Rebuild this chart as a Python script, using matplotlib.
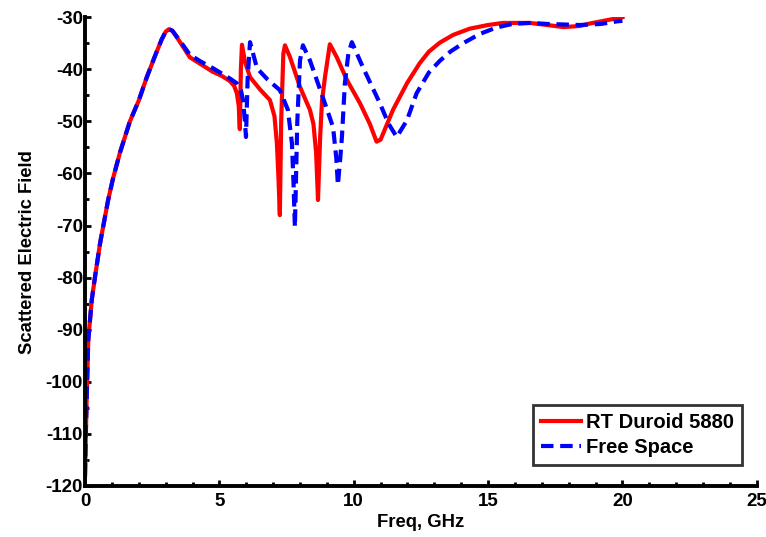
import matplotlib
matplotlib.use("Agg")
import matplotlib.pyplot as plt
from matplotlib.ticker import MultipleLocator

plt.rcParams['font.family'] = ['Liberation Sans', 'DejaVu Sans']
plt.rcParams['font.weight'] = 'bold'
plt.rcParams['axes.unicode_minus'] = False

rt_freq = [0, 0.03, 0.06, 0.12, 0.25, 0.37, 0.56, 0.86, 1.04, 1.3, 1.67, 2.0, 2.3, 2.6, 2.85, 3.0, 3.12, 3.25,
           3.5, 3.9, 4.3, 4.76, 5.1, 5.4, 5.55, 5.65, 5.72, 5.76, 5.8, 5.84, 5.95, 6.14, 6.5, 6.88,
           7.05, 7.14, 7.2, 7.25, 7.3, 7.38, 7.44, 7.63, 8.0, 8.37, 8.5, 8.6, 8.67, 8.75, 8.82, 8.93,
           9.11, 9.37, 9.75, 10.23, 10.6, 10.85, 11.0, 11.46, 11.98, 12.46, 12.8, 13.2, 13.7, 14.32, 15.0,
           15.55, 16.55, 17.2, 17.8, 18.4, 18.8, 19.4, 19.9, 20.0]
rt_field = [-118, -110, -103.5, -92, -84.3, -79.9, -73.4, -65.1, -61, -56, -50, -46, -41.5, -37.5, -34.3, -32.8, -32.3, -32.6,
            -34.5, -37.7, -39, -40.5, -41.3, -42.3, -43.2, -44.6, -47, -51.5, -40, -35.3, -38.5, -41.5, -43.8, -45.9,
            -49, -54.2, -61, -68, -50, -37, -35.4, -37.7, -43.4, -47.8, -50.5, -56, -65.1, -53, -46, -41.5,
            -35.2, -37.7, -42.1, -46.5, -50.5, -53.9, -53.5, -47.8, -42.7, -38.8, -36.6, -34.9, -33.4, -32.2, -31.5,
            -31.1, -31.1, -31.5, -31.9, -31.7, -31.2, -30.6, -30.1, -30.0]

fs_freq = [0, 0.03, 0.06, 0.12, 0.25, 0.37, 0.56, 0.86, 1.04, 1.3, 1.67, 2.0, 2.3, 2.6, 2.85, 3.0, 3.12, 3.25,
           3.5, 3.9, 4.3, 4.76, 5.02, 5.4, 5.65, 5.8, 5.88, 5.95, 5.99, 6.05, 6.14, 6.4, 6.8, 7.25,
           7.55, 7.7, 7.76, 7.81, 7.9, 8.0, 8.11, 8.37, 8.85, 9.23, 9.35, 9.41, 9.5, 9.56, 9.67, 9.8,
           9.93, 10.34, 10.97, 11.3, 11.6, 11.98, 12.34, 12.8, 13.2, 13.6, 14.07, 14.7, 15.3, 15.9,
           16.6, 17.2, 18.4, 19.2, 19.8, 20.0]
fs_field = [-118, -110, -103.5, -92, -84.3, -79.9, -73.4, -65.1, -61, -56, -50, -46, -41.5, -37.5, -34.3, -32.8, -32.3, -32.6,
            -34.3, -37.2, -38.5, -39.8, -40.6, -41.8, -42.7, -44, -45.9, -50, -53, -42, -34.8, -39.8, -42, -44,
            -47.8, -54.2, -62, -70.3, -50, -38.3, -35.4, -38.3, -45.4, -51.1, -57, -62.2, -57, -53, -42.7, -37,
            -34.8, -39.6, -46.5, -50.5, -53, -49.8, -44.6, -40.6, -38.4, -36.6, -35.0, -33.2, -32.0, -31.3,
            -31.1, -31.3, -31.5, -31.3, -30.8, -30.7]

fig = plt.figure(figsize=(7.66, 5.37), dpi=100)
ax = fig.add_axes([0.111, 0.095, 0.877, 0.873])
ax.plot(rt_freq, rt_field, color='#ff0000', lw=3, label='RT Duroid 5880')
ax.plot(fs_freq, fs_field, color='#0000ff', lw=3, ls=(0, (3, 1.6)), label='Free Space')

ax.set_xlim(0, 25)
ax.set_ylim(-120, -30)
ax.xaxis.set_major_locator(MultipleLocator(5))
ax.xaxis.set_minor_locator(MultipleLocator(1))
ax.yaxis.set_major_locator(MultipleLocator(10))
ax.yaxis.set_minor_locator(MultipleLocator(5))
ax.tick_params(which='both', direction='in', width=2)
ax.tick_params(which='major', length=4, labelsize=13.5)
ax.tick_params(axis='y', which='major', pad=1.5)
ax.tick_params(axis='x', which='major', pad=5)
ax.tick_params(which='minor', length=3)
for s in ['top', 'right']:
    ax.spines[s].set_visible(False)
for s in ['left', 'bottom']:
    ax.spines[s].set_linewidth(2.8)
for lab in ax.get_xticklabels() + ax.get_yticklabels():
    lab.set_fontweight('bold')

ax.set_xlabel('Freq, GHz', fontsize=13.3, fontweight='bold', labelpad=3)
ax.set_ylabel('Scattered Electric Field', fontsize=13.3, fontweight='bold', labelpad=7)

leg = ax.legend(loc='lower right', fontsize=14.5, frameon=True, fancybox=False,
                handlelength=2.0, handletextpad=0.25, borderpad=0.4, labelspacing=0.3,
                bbox_to_anchor=(0.993, 0.024))
leg.get_frame().set_edgecolor('black')
leg.get_frame().set_linewidth(2)
for t in leg.get_texts():
    t.set_fontweight('bold')

fig.savefig('out.png', dpi=100)
